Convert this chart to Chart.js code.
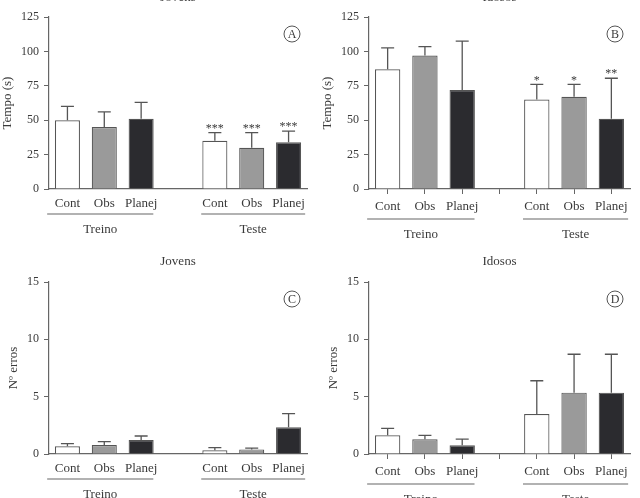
<!DOCTYPE html>
<html>
<head>
<meta charset="utf-8">
<script src="https://cdn.jsdelivr.net/npm/chart.js@4.4.0/dist/chart.umd.min.js"></script>
<style>
  body { margin: 0; background: #fff; }
  #wrap { position: relative; width: 640px; height: 498px; overflow: hidden; }
  canvas { position: absolute; }
</style>
</head>
<body>
<div id="wrap">
  <canvas id="chartA" width="320" height="249" style="left:0;top:0"></canvas>
  <canvas id="chartB" width="320" height="249" style="left:320px;top:0"></canvas>
  <canvas id="chartC" width="320" height="249" style="left:0;top:249px"></canvas>
  <canvas id="chartD" width="320" height="249" style="left:320px;top:249px"></canvas>
</div>
<script>
// categories (empty slot in the middle separates Treino / Teste)
const categories = ["Cont", "Obs", "Planej", "", "Cont", "Obs", "Planej"];
const groups = ["Treino", "Teste"];

// Tempo (s) - mean and SD
const tempoJovens = [50, 45, 51, null, 35, 30, 34];
const tempoJovensSD = [10, 11, 12, null, 6, 11, 8];
const tempoIdosos = [87, 97, 72, null, 65, 67, 51];
const tempoIdososSD = [15.5, 6.5, 35.5, null, 11, 9, 29.5];

// Nº erros - mean and SD
const errosJovens = [0.67, 0.78, 1.22, null, 0.32, 0.4, 2.33];
const errosJovensSD = [0.23, 0.3, 0.35, null, 0.23, 0.12, 1.19];
const errosIdosos = [1.63, 1.28, 0.76, null, 3.49, 5.35, 5.35];
const errosIdososSD = [0.61, 0.35, 0.54, null, 2.9, 3.35, 3.35];

// significance marks
const starsJovens = ["", "", "", "", "***", "***", "***"];
const starsIdosos = ["", "", "", "", "*", "*", "**"];

const barColors = ["#ffffff", "#9a9a9a", "#2b2b2f", "#ffffff", "#ffffff", "#9a9a9a", "#2b2b2f"];
const FONT = "'Liberation Serif', 'DejaVu Serif', serif";
const TEXT = "#3a3a3a";
const LINE = "#666";

// error bars, stars, group lines, panel title and letter
const panelExtras = {
  id: "panelExtras",
  afterDatasetsDraw(chart, args, opts) {
    const ctx = chart.ctx;
    const x = chart.scales.x;
    const y = chart.scales.y;
    const area = chart.chartArea;
    const meta = chart.getDatasetMeta(0);
    ctx.save();

    ctx.strokeStyle = "#555";
    ctx.lineWidth = 1.3;
    ctx.fillStyle = TEXT;
    ctx.textAlign = "center";
    ctx.textBaseline = "middle";
    ctx.font = "12px " + FONT;
    opts.means.forEach((m, i) => {
      if (m == null) return;
      const cx = meta.data[i].x;
      const yTop = y.getPixelForValue(m);
      const yErr = y.getPixelForValue(m + opts.sd[i]);
      ctx.beginPath();
      ctx.moveTo(cx, yTop);
      ctx.lineTo(cx, yErr);
      ctx.moveTo(cx - 6.5, yErr);
      ctx.lineTo(cx + 6.5, yErr);
      ctx.stroke();
      if (opts.stars && opts.stars[i]) {
        ctx.fillText(opts.stars[i], cx, yErr - 4);
      }
    });

    // group lines under the category labels
    const slot = x.getPixelForValue(1) - x.getPixelForValue(0);
    const spans = [[0, 2, -0.55, 0.33], [4, 6, -0.37, 0.45]];
    ctx.strokeStyle = LINE;
    ctx.lineWidth = 1.2;
    ctx.font = "13px " + FONT;
    spans.forEach((s, g) => {
      const x0 = x.getPixelForValue(s[0]) + s[2] * slot;
      const x1 = x.getPixelForValue(s[1]) + s[3] * slot;
      const ly = area.bottom + opts.lineOffset;
      ctx.beginPath();
      ctx.moveTo(x0, ly);
      ctx.lineTo(x1, ly);
      ctx.stroke();
      ctx.fillText(groups[g], (x0 + x1) / 2, ly + 16);
    });

    // panel title
    ctx.fillText(opts.title, (area.left + area.right) / 2, area.top - opts.titleGap);

    // circled letter
    const lx = area.right - 15;
    const ly = area.top + 17;
    ctx.lineWidth = 1;
    ctx.strokeStyle = "#555";
    ctx.beginPath();
    ctx.arc(lx, ly, 8, 0, Math.PI * 2);
    ctx.stroke();
    ctx.font = "12px " + FONT;
    ctx.fillText(opts.letter, lx, ly + 0.5);

    ctx.restore();
  },
};

function makePanel(id, cfg) {
  const ctx = document.getElementById(id).getContext("2d");
  return new Chart(ctx, {
    type: "bar",
    data: {
      labels: categories,
      datasets: [
        {
          data: cfg.means,
          backgroundColor: barColors,
          borderColor: "#555",
          borderWidth: 1.2,
          barPercentage: 0.68,
          categoryPercentage: 1,
        },
      ],
    },
    options: {
      responsive: false,
      animation: false,
      layout: { padding: { top: cfg.top, right: cfg.right, bottom: 0, left: 0 } },
      plugins: {
        legend: { display: false },
        tooltip: { enabled: false },
        panelExtras: {
          means: cfg.means,
          sd: cfg.sd,
          stars: cfg.stars,
          title: cfg.title,
          letter: cfg.letter,
          titleGap: cfg.titleGap,
          lineOffset: cfg.xTicks ? 30 : 25,
        },
      },
      scales: {
        x: {
          grid: {
            display: cfg.xTicks,
            drawOnChartArea: false,
            drawTicks: cfg.xTicks,
            offset: false,
            tickLength: 5,
            color: LINE,
          },
          border: { display: true, color: LINE, width: 1.2 },
          ticks: {
            color: TEXT,
            font: { family: FONT, size: 13 },
            padding: cfg.xTicks ? 5 : 7,
            maxRotation: 0,
            autoSkip: false,
          },
          afterFit: (scale) => {
            scale.height = cfg.xHeight;
          },
        },
        y: {
          min: 0,
          max: cfg.max,
          grid: {
            display: true,
            drawOnChartArea: false,
            tickLength: 5,
            color: LINE,
          },
          border: { display: true, color: LINE, width: 1.2 },
          ticks: {
            stepSize: cfg.step,
            color: TEXT,
            font: { family: FONT, size: 12 },
            padding: 5,
          },
          title: {
            display: true,
            text: cfg.yTitle,
            color: TEXT,
            font: { family: FONT, size: 13 },
            padding: { top: cfg.titlePad, bottom: 0 },
          },
          afterFit: (scale) => {
            scale.width = 49;
          },
        },
      },
    },
    plugins: [panelExtras],
  });
}

makePanel("chartA", {
  means: tempoJovens, sd: tempoJovensSD, stars: starsJovens,
  title: "Jovens", letter: "A", yTitle: "Tempo (s)", titleGap: 19,
  max: 125, step: 25, top: 17, right: 13, xHeight: 60, xTicks: false, titlePad: 0,
});
makePanel("chartB", {
  means: tempoIdosos, sd: tempoIdososSD, stars: starsIdosos,
  title: "Idosos", letter: "B", yTitle: "Tempo (s)", titleGap: 19,
  max: 125, step: 25, top: 17, right: 10, xHeight: 60, xTicks: true, titlePad: 0,
});
makePanel("chartC", {
  means: errosJovens, sd: errosJovensSD, stars: null,
  title: "Jovens", letter: "C", yTitle: "Nº erros", titleGap: 20,
  max: 15, step: 5, top: 33, right: 13, xHeight: 44, xTicks: false, titlePad: 6,
});
makePanel("chartD", {
  means: errosIdosos, sd: errosIdososSD, stars: null,
  title: "Idosos", letter: "D", yTitle: "Nº erros", titleGap: 20,
  max: 15, step: 5, top: 33, right: 10, xHeight: 44, xTicks: true, titlePad: 6,
});
</script>
</body>
</html>
